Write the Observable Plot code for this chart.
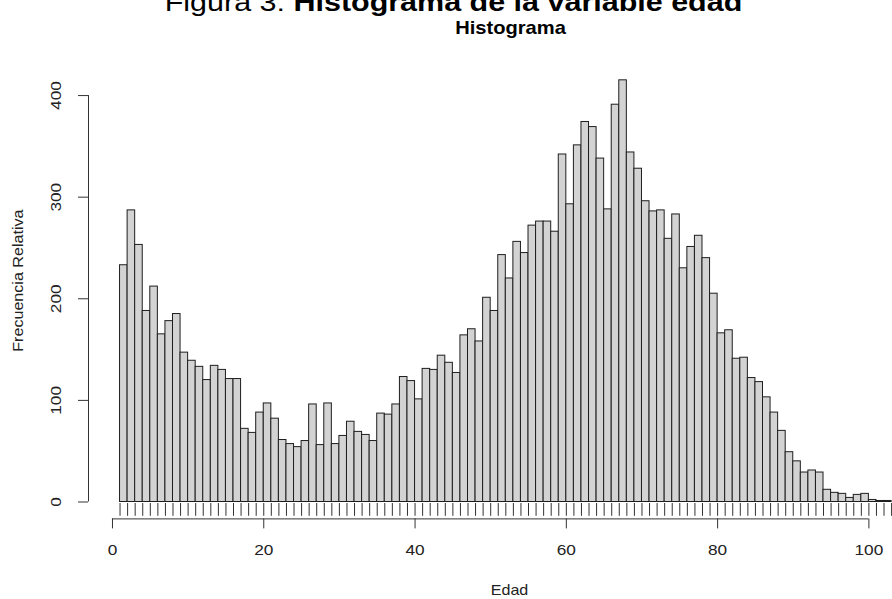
<!DOCTYPE html>
<html>
<head>
<meta charset="utf-8">
<script src="https://cdn.jsdelivr.net/npm/d3@7"></script>
<script src="https://cdn.jsdelivr.net/npm/@observablehq/plot@0.6"></script>
<style>
  body { margin: 0; background: #fff; }
  #wrap { position: relative; width: 892px; height: 599px; overflow: hidden; font-family: "Liberation Sans", Arial, Helvetica, sans-serif; background: #fff; }
  #chart { position: absolute; left: 0; top: 0; z-index: 1; }
  #title { position: absolute; z-index: 2; left: 0; top: -11.4px; width: 907px; text-align: center; font-size: 26.5px; line-height: 26.5px; white-space: nowrap; color: #000; transform: scaleX(1.15); transform-origin: 453.5px 0; }
  #title b { font-weight: bold; }
</style>
</head>
<body>
<div id="wrap">
  <div id="chart"></div>
  <div id="title">Figura 3: <b>Histograma de la variable edad</b></div>
</div>
<script>
// ---- data ----
const binStart = [
  1, 2, 3, 4, 5, 6, 7, 8, 9, 10, 11, 12, 13, 14, 15, 16, 17, 18, 19, 20,
  21, 22, 23, 24, 25, 26, 27, 28, 29, 30, 31, 32, 33, 34, 35, 36, 37, 38, 39, 40,
  41, 42, 43, 44, 45, 46, 47, 48, 49, 50, 51, 52, 53, 54, 55, 56, 57, 58, 59, 60,
  61, 62, 63, 64, 65, 66, 67, 68, 69, 70, 71, 72, 73, 74, 75, 76, 77, 78, 79, 80,
  81, 82, 83, 84, 85, 86, 87, 88, 89, 90, 91, 92, 93, 94, 95, 96, 97, 98, 99, 100,
  101, 102
];
const binEnd = [
  2, 3, 4, 5, 6, 7, 8, 9, 10, 11, 12, 13, 14, 15, 16, 17, 18, 19, 20, 21,
  22, 23, 24, 25, 26, 27, 28, 29, 30, 31, 32, 33, 34, 35, 36, 37, 38, 39, 40, 41,
  42, 43, 44, 45, 46, 47, 48, 49, 50, 51, 52, 53, 54, 55, 56, 57, 58, 59, 60, 61,
  62, 63, 64, 65, 66, 67, 68, 69, 70, 71, 72, 73, 74, 75, 76, 77, 78, 79, 80, 81,
  82, 83, 84, 85, 86, 87, 88, 89, 90, 91, 92, 93, 94, 95, 96, 97, 98, 99, 100, 101,
  102, 103
];
const counts = [
  233, 287, 253, 188, 212, 165, 178, 185, 147, 139, 133, 120, 134, 130, 121, 121, 72, 68, 88, 97,
  82, 61, 57, 54, 60, 96, 56, 97, 57, 65, 79, 69, 66, 60, 87, 86, 96, 123, 119, 101,
  131, 130, 144, 137, 127, 164, 170, 158, 201, 188, 243, 220, 256, 245, 272, 276, 276, 266, 342, 293,
  351, 374, 369, 338, 288, 391, 415, 344, 328, 296, 286, 287, 259, 283, 230, 251, 262, 240, 205, 166,
  169, 141, 142, 122, 118, 103, 88, 70, 49, 40, 29, 31, 29, 12, 9, 8, 4, 7, 8, 2,
  1, 1
];
const rugAges = [
  1, 2, 3, 4, 5, 6, 7, 8, 9, 10, 11, 12, 13, 14, 15, 16, 17, 18, 19, 20,
  21, 22, 23, 24, 25, 26, 27, 28, 29, 30, 31, 32, 33, 34, 35, 36, 37, 38, 39, 40,
  41, 42, 43, 44, 45, 46, 47, 48, 49, 50, 51, 52, 53, 54, 55, 56, 57, 58, 59, 60,
  61, 62, 63, 64, 65, 66, 67, 68, 69, 70, 71, 72, 73, 74, 75, 76, 77, 78, 79, 80,
  81, 82, 83, 84, 85, 86, 87, 88, 89, 90, 91, 92, 93, 94, 95, 96, 97, 98, 99, 100,
  101, 102, 103
];
const xTicks = [0, 20, 40, 60, 80, 100];
const yTicks = [0, 100, 200, 300, 400];
const chartTitle = "Histograma";
const xLabel = "Edad";
const yLabel = "Frecuencia Relativa";

// ---- scale configuration ----
const xDomain = [-3.17, 103.12];
const yDomain = [-16.64, 432.64];
const FONT = '"Liberation Sans", Arial, Helvetica, sans-serif';
const INK = "#222";

const bins = binStart.map((s, i) => ({lo: s, hi: binEnd[i], count: counts[i]}));

const svg = Plot.plot({
  width: 892,
  height: 599,
  marginLeft: 88,
  marginRight: 0,
  marginTop: 61.9,
  marginBottom: 80.6,
  x: {domain: xDomain},
  y: {domain: yDomain},
  style: {fontFamily: FONT, color: INK, background: "#fff", overflow: "hidden"},
  marks: [
    Plot.rectY(bins, {x1: "lo", x2: "hi", y1: 0, y2: "count", fill: "#d3d3d3", stroke: "#1e1e1e", strokeWidth: 1, inset: 0}),
    // rug
    Plot.ruleX(rugAges, {x: d => d, y1: yDomain[0], y2: yDomain[0], insetTop: -15.4, insetBottom: 2.6, stroke: "#333", strokeWidth: 1}),
    // x axis
    Plot.ruleY([yDomain[0]], {x1: xTicks[0], x2: xTicks[xTicks.length - 1], stroke: "#333", strokeWidth: 1}),
    Plot.axisX({ticks: xTicks, anchor: "bottom", tickSize: 10, tickPadding: 15, fontSize: 15, label: null, stroke: "#333"}),
    // y axis
    Plot.ruleX([xDomain[0]], {y1: yTicks[0], y2: yTicks[yTicks.length - 1], stroke: "#333", strokeWidth: 1}),
    Plot.axisY({ticks: yTicks, anchor: "left", tickSize: 10, tickFormat: () => "", label: null, stroke: "#333"}),
    Plot.text(yTicks, {y: d => d, text: d => String(d), frameAnchor: "left", textAnchor: "middle", lineAnchor: "middle", dx: -32, rotate: -90, fontSize: 15, fill: INK}),
    // titles
    Plot.text([chartTitle], {frameAnchor: "top", textAnchor: "middle", lineAnchor: "middle", dx: 20, dy: -34, fontSize: 17.5, fontWeight: "bold", fill: "#000"}),
    Plot.text([xLabel], {frameAnchor: "bottom", textAnchor: "middle", lineAnchor: "middle", dx: 19, dy: 72, fontSize: 14, fill: INK}),
    Plot.text([yLabel], {frameAnchor: "left", textAnchor: "middle", lineAnchor: "middle", dx: -70, dy: -10, rotate: -90, fontSize: 14, fill: INK})
  ]
});

// R's device output is slightly wider than tall: stretch glyphs horizontally
const STRETCH = 1.15;
svg.querySelectorAll("text").forEach(t => {
  const tr = t.getAttribute("transform");
  if (tr) {
    t.setAttribute("transform", tr + ` scale(${STRETCH},1)`);
  } else {
    const x = +t.getAttribute("x") || 0, y = +t.getAttribute("y") || 0;
    t.removeAttribute("x"); t.removeAttribute("y");
    t.setAttribute("transform", `translate(${x},${y}) scale(${STRETCH},1)`);
  }
});

document.getElementById("chart").appendChild(svg);
</script>
</body>
</html>
